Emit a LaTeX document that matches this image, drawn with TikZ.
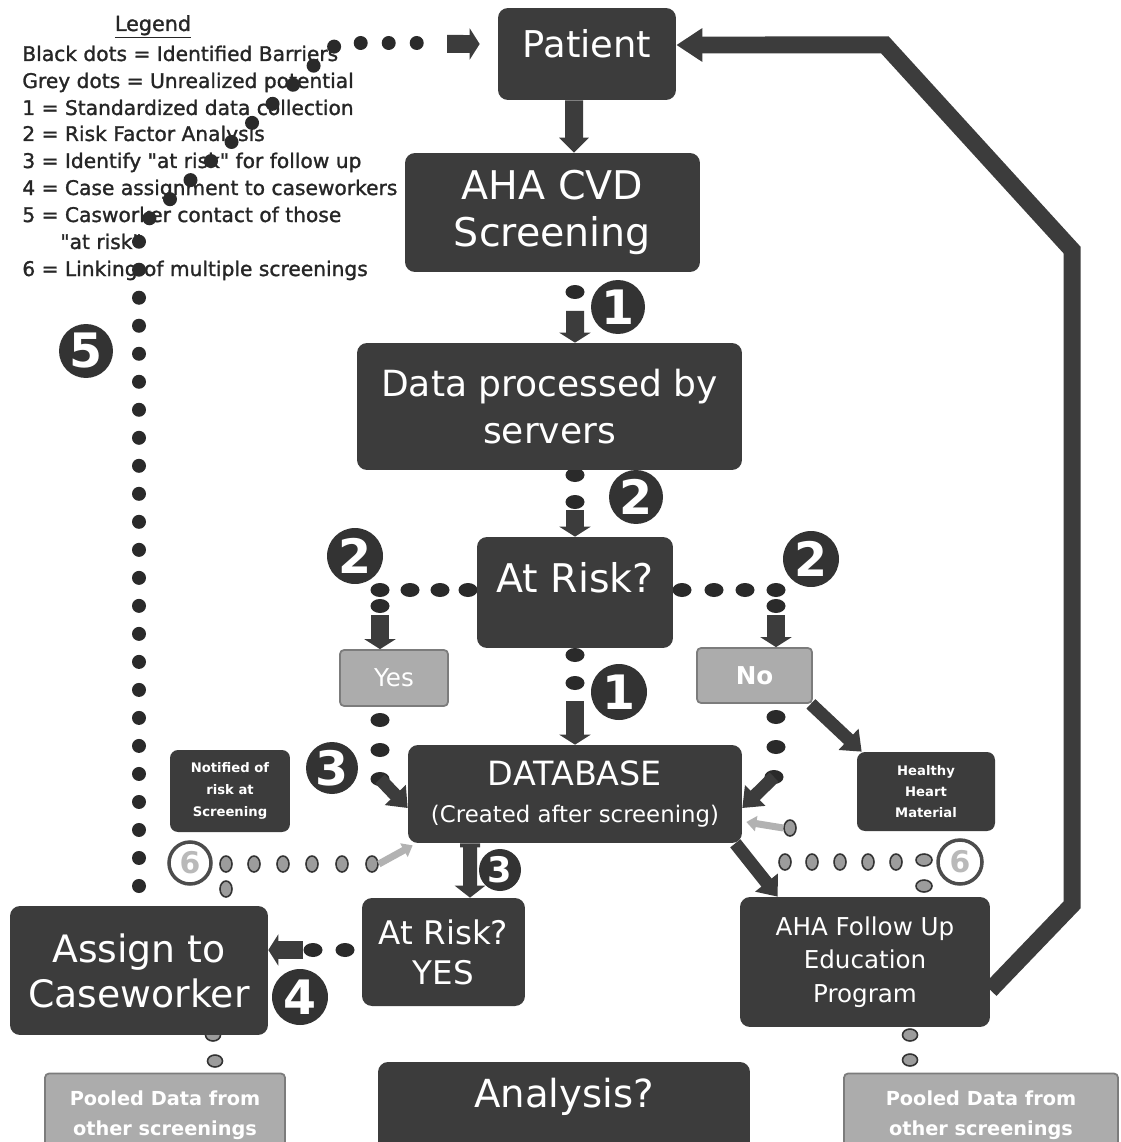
\documentclass[tikz,border=0pt]{standalone}
\usepackage{fontspec}
\setmainfont{DejaVu Sans}
\newfontfamily\legfont{DejaVu Sans}[FakeBold=1.3]
\usetikzlibrary{arrows.meta,shapes.geometric}
\newcommand\myfs[2]{\fontsize{#1}{#2}\selectfont}
\definecolor{boxc}{HTML}{3C3C3C}
\definecolor{dotc}{HTML}{2A2A2A}
\definecolor{gboxc}{HTML}{ACACAC}
\definecolor{gboxd}{HTML}{7C7C7C}
\definecolor{numcol}{HTML}{333333}
\definecolor{gdotc}{HTML}{9C9C9C}
\begin{document}
\begin{tikzpicture}[x=0.02cm,y=-0.02cm,
  dbox/.style={rectangle, rounded corners=0.2cm, fill=boxc, text=white, align=center, inner sep=0pt},
  gbox/.style={rectangle, rounded corners=0.08cm, fill=gboxc, draw=gboxd, line width=1pt, text=white, align=center, inner sep=0pt},
  numcirc/.style={circle, fill=numcol, text=white, inner sep=0pt, font=\bfseries\myfs{27}{27}},
  ghostcirc/.style={circle, fill=white, draw=black!70, line width=2pt, text=gray!55, inner sep=0pt, minimum size=0.84cm, font=\bfseries\myfs{17}{17}},
  bdot/.style={ellipse, fill=dotc, inner sep=0pt, minimum width=0.38cm, minimum height=0.28cm},
  gdot/.style={ellipse, fill=gdotc, draw=black!80, line width=0.9pt, inner sep=0pt, minimum width=0.24cm, minimum height=0.32cm},
  arrA/.style={draw=boxc, line width=0.36cm, -{Triangle[width=0.58cm,length=0.3cm]}},
  arrS/.style={draw=boxc, line width=0.36cm, -{Triangle[width=0.62cm,length=0.2cm]}},
  arrD/.style={draw=boxc, line width=0.26cm, -{Triangle[width=0.56cm,length=0.36cm]}},
  arrG/.style={draw=gray!60, line width=0.14cm, -{Triangle[width=0.3cm,length=0.2cm]}},
  bigarr/.style={draw=boxc, line width=0.34cm, -{Triangle[width=0.64cm,length=0.52cm]}},
  legtxt/.style={anchor=base west, inner sep=0pt, text=black!85, font=\legfont\myfs{11.5}{14}},
]
\fill[white] (0,0) rectangle (1120,1142);
\useasboundingbox (0,0) rectangle (1120,1142);
\clip (0,0) rectangle (1120,1142);

% ---------------- legend
\node[anchor=base, inner sep=0pt, text=black!85, font=\legfont\myfs{11.8}{14}] (legt) at (153,31) {\underline{Legend}};
\node[legtxt] (l1) at (22,61) {Black dots = Identified Barriers};
\node[legtxt] (l2) at (22,88) {Grey dots = Unrealized potential};
\node[legtxt] (l3) at (22,115) {1 = Standardized data collection};
\node[legtxt] (l4) at (22,141) {2 = Risk Factor Analysis};
\node[legtxt] (l5) at (22,168) {3 = Identify \textquotedbl at risk\textquotedbl{} for follow up};
\node[legtxt] (l6) at (22,195) {4 = Case assignment to caseworkers};
\node[legtxt] (l7) at (22,222) {5 = Casworker contact of those};
\node[legtxt] (l8) at (60,249) {\textquotedbl at risk\textquotedbl};
\node[legtxt] (l9) at (22,276) {6 = Linking of multiple screenings};

% ---------------- long dotted barrier line (5)
\coordinate (p5a) at (139,886);
\coordinate (p5b) at (139,228);
\coordinate (p5c) at (338,43);
\coordinate (p5d) at (434,43);
\coordinate (p5e) at (447,44);
\draw[dotc, line width=0.28cm, line cap=round, dash pattern=on 0.01pt off 0.56cm] (p5a) -- (p5b) -- (p5c) -- (p5d);

% ---------------- black dots
\node[bdot] (d1) at (575,292) {};
\node[bdot] (d2) at (575,475) {};
\node[bdot] (d3) at (575,502) {};
\node[bdot] (d4) at (575,655) {};
\node[bdot] (d5) at (575,683) {};
\node[bdot] (yl1) at (468,590) {};
\node[bdot] (yl2) at (440,590) {};
\node[bdot] (yl3) at (410,590) {};
\node[bdot] (yl4) at (380,590) {};
\node[bdot] (yl5) at (380,606) {};
\node[bdot] (nl1) at (682,590) {};
\node[bdot] (nl2) at (714,590) {};
\node[bdot] (nl3) at (745,590) {};
\node[bdot] (nl4) at (776,590) {};
\node[bdot] (nl5) at (776,606) {};
\node[bdot] (yd1) at (380,720) {};
\node[bdot] (yd2) at (380,750) {};
\node[bdot] (yd3) at (380,779) {};
\node[bdot] (nd1) at (776,717) {};
\node[bdot] (nd2) at (776,747) {};
\node[bdot] (nd3) at (774,777) {};
\node[bdot] (ad1) at (345,950) {};
\node[bdot] (ad2) at (313,950) {};

% ---------------- grey dots
\node[gdot] (gl1) at (226,864) {};
\node[gdot] (gl2) at (254,864) {};
\node[gdot] (gl3) at (283,864) {};
\node[gdot] (gl4) at (312,864) {};
\node[gdot] (gl5) at (342,864) {};
\node[gdot] (gl6) at (372,864) {};
\node[gdot] (gl7) at (226,889) {};
\node[gdot] (gr0) at (790,828) {};
\node[gdot] (gr1) at (785,862) {};
\node[gdot] (gr2) at (812,862) {};
\node[gdot] (gr3) at (840,862) {};
\node[gdot] (gr4) at (868,862) {};
\node[gdot] (gr5) at (896,862) {};
\node[gdot, minimum width=0.32cm, minimum height=0.24cm] (gr6) at (924,860) {};
\node[gdot, minimum width=0.32cm, minimum height=0.24cm] (gr7) at (924,886) {};
\node[gdot, minimum width=0.3cm, minimum height=0.24cm] (ga1) at (213,1035) {};
\node[gdot, minimum width=0.3cm, minimum height=0.24cm] (ga2) at (215,1061) {};
\node[gdot, minimum width=0.3cm, minimum height=0.24cm] (gf1) at (910,1035) {};
\node[gdot, minimum width=0.3cm, minimum height=0.24cm] (gf2) at (910,1060) {};

% ---------------- boxes
\node[dbox, minimum width=3.56cm, minimum height=1.84cm,
  label={[yshift=0.2cm, text=white, font=\myfs{21}{26}]center:Patient}] (patient) at (587,54) {};
\node[dbox, minimum width=5.9cm, minimum height=2.38cm, font=\myfs{22.5}{26.7}] (aha) at (552.5,212.5) {AHA CVD\\Screening};
\node[dbox, minimum width=7.7cm, minimum height=2.54cm, font=\myfs{20.5}{27}] (data) at (549.5,406.5) {Data processed by\\servers};
\node[dbox, minimum width=3.92cm, minimum height=2.22cm,
  label={[yshift=0.29cm, text=white, font=\myfs{22.5}{26}]center:At Risk?}] (risk) at (575,592.5) {};
\node[gbox, minimum width=2.16cm, minimum height=1.12cm, font=\myfs{14}{16}] (yes) at (394,678) {Yes};
\node[gbox, minimum width=2.3cm, minimum height=1.1cm, font=\bfseries\myfs{14}{16}] (no) at (754.5,675.5) {No};
\node[dbox, rounded corners=0.16cm, minimum width=2.4cm, minimum height=1.64cm, font=\bfseries\myfs{7.5}{12.5}] (notified) at (230,791) {Notified of\\risk at\\Screening};
\node[dbox, minimum width=6.68cm, minimum height=1.96cm, font=\myfs{19}{21}] (db) at (575,794) {DATABASE\\{\myfs{13}{15}(Created after screening)}};
\node[dbox, rounded corners=0.16cm, minimum width=2.76cm, minimum height=1.58cm, font=\bfseries\myfs{7.5}{12}] (healthy) at (926,791.5) {Healthy\\Heart\\Material};
\node[dbox, minimum width=3.26cm, minimum height=2.16cm, font=\myfs{18.5}{22.8}] (yesbox) at (443.5,952) {At Risk?\\YES};
\node[dbox, minimum width=5.16cm, minimum height=2.58cm, font=\myfs{21.5}{25.6}] (assign) at (139,970.5) {Assign to\\Caseworker};
\node[dbox, minimum width=5.0cm, minimum height=2.6cm, font=\myfs{14}{19}] (follow) at (865,962) {AHA Follow Up\\Education\\Program};
\node[gbox, minimum width=4.8cm, minimum height=1.66cm, font=\bfseries\myfs{11}{17}, yshift=0.07cm] (pooledL) at (165,1118.5) {Pooled Data from\\other screenings};
\node[dbox, minimum width=7.44cm, minimum height=2.16cm,
  label={[yshift=0.38cm, text=white, font=\myfs{22}{26}]center:Analysis?}] (analysis) at (564,1116) {};
\node[gbox, minimum width=5.48cm, minimum height=1.66cm, font=\bfseries\myfs{11}{17}, yshift=0.07cm] (pooledR) at (981,1118.5) {Pooled Data from\\other screenings};

% ---------------- numbered circles
\node[numcirc, minimum size=1.08cm] (n1a) at (618,307) {1};
\node[numcirc, minimum size=1.08cm] (n2a) at (636,497) {2};
\node[numcirc, minimum size=1.12cm] (n2l) at (355,556) {2};
\node[numcirc, minimum size=1.12cm] (n2r) at (811,559) {2};
\node[numcirc, minimum size=1.12cm] (n1b) at (619,692) {1};
\node[numcirc, minimum size=1.04cm] (n3l) at (332,768) {3};
\node[numcirc, minimum size=0.84cm, font=\bfseries\myfs{20}{20}] (n3s) at (500,870) {3};
\node[numcirc, minimum size=1.12cm] (n4) at (300,997) {4};
\node[numcirc, minimum size=1.08cm] (n5) at (86,351) {5};
\node[ghostcirc] (g6l) at (190,863) {6};
\node[ghostcirc, minimum size=0.88cm] (g6r) at (960,862) {6};

% ---------------- connectors
\draw[arrA] ([xshift=-0.26cm]patient.south) -- ([xshift=0.43cm]aha.north);
\draw[arrS] ([yshift=-0.38cm]d1.center) -- ([xshift=0.51cm]data.north);
\draw[arrS] ([yshift=-0.16cm]d3.center) -- (risk.north);
\draw[arrS] ([yshift=-0.36cm]d5.center) -- (db.north);
\draw[arrS] ([yshift=-0.18cm]yl5.center) -- (yl5 |- yes.north);
\draw[arrS] ([yshift=-0.18cm]nl5.center) -- (nl5 |- no.north);
\draw[arrD] (yd3.center) -- ([yshift=-0.28cm]db.west);
\draw[arrD] (nd3.center) -- ([yshift=-0.28cm]db.east);
\draw[arrD] ([xshift=-0.04cm]no.south east) -- ([xshift=0.1cm]healthy.north west);
\draw[draw=boxc, line width=0.28cm, {Bar[width=0.4cm,line width=0.08cm]}-{Triangle[width=0.6cm,length=0.24cm]}] ([xshift=-2.1cm]db.south) -- ([xshift=0.53cm]yesbox.north);
\draw[arrD] ([xshift=-0.14cm]db.south east) -- ([xshift=0.76cm]follow.north west);
\draw[arrS] ([xshift=-0.2cm]ad2.center) -- (ad2 -| assign.east);
\draw[arrS] (p5e) -- ([yshift=0.2cm, xshift=-0.36cm]patient.west);
\draw[arrG] (gl6.east) -- ([xshift=0.1cm, yshift=-0.04cm]db.south west);
\draw[arrG] (gr0.west) -- ([xshift=0.08cm, yshift=-0.56cm]db.east);
\draw[bigarr] ([yshift=-0.56cm]follow.east) -- (1072,905) -- (1072,250) -- (885,45) -- ([yshift=0.18cm]patient.east);
\end{tikzpicture}
\end{document}
